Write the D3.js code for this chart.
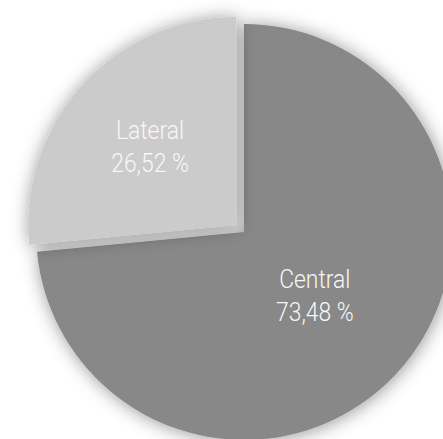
<!DOCTYPE html>
<html>
<head>
<meta charset="utf-8">
<script src="https://cdn.jsdelivr.net/npm/d3@7"></script>
<style>
  html, body { margin: 0; padding: 0; background: #ffffff; overflow: hidden; }
  svg { display: block; }
</style>
</head>
<body>
<svg id="chart" width="443" height="439"></svg>
<script>
// ---- data ----
const categories = ["Central", "Lateral"];
const values = [73.48, 26.52];
const valueLabels = ["73,48 %", "26,52 %"];
const colors = ["#888888", "#cbcbcb"];

// ---- layout ----
const width = 443, height = 439;
const cx = 244, cy = 232, radius = 208;
const explodeBy = { "Lateral": 10.5 };
const labelDist = { "Central": 0.46, "Lateral": 0.56 };

const svg = d3.select("#chart");
const defs = svg.append("defs");
const f = defs.append("filter").attr("id", "shadow")
  .attr("x", "-30%").attr("y", "-30%").attr("width", "160%").attr("height", "160%");
f.append("feDropShadow").attr("dx", 1).attr("dy", 1)
  .attr("stdDeviation", 9).attr("flood-color", "#000").attr("flood-opacity", 0.42);

const pie = d3.pie().sort(null).value(d => d.value);
const data = pie(categories.map((c, i) => ({ cat: c, value: values[i], label: valueLabels[i], color: colors[i] })));

const arc = d3.arc().innerRadius(0).outerRadius(radius);

const g = svg.append("g").attr("transform", `translate(${cx},${cy})`);

function offset(d) {
  const e = explodeBy[d.data.cat] || 0;
  const a = (d.startAngle + d.endAngle) / 2;
  return [Math.sin(a) * e, -Math.cos(a) * e];
}

const slices = g.selectAll("g.slice").data(data).join("g")
  .attr("class", "slice")
  .attr("transform", d => { const o = offset(d); return `translate(${o[0]},${o[1]})`; });

slices.append("path")
  .attr("d", arc)
  .attr("fill", d => d.data.color)
  .attr("filter", "url(#shadow)");

slices.each(function(d) {
  const a = (d.startAngle + d.endAngle) / 2;
  const r = radius * labelDist[d.data.cat];
  const x = Math.sin(a) * r, y = -Math.cos(a) * r;
  const t = d3.select(this).append("text")
    .attr("transform", `translate(${x},${y}) scale(0.88,1)`)
    .attr("text-anchor", "middle")
    .attr("fill", "#f7f7f7")
    .style("font-family", "Roboto, 'Open Sans', sans-serif")
    .style("font-weight", 300)
    .style("font-size", "26px");
  t.append("tspan").attr("x", 0).attr("y", -8).text(d.data.cat);
  t.append("tspan").attr("x", 0).attr("y", 25).text(d.data.label);
});
</script>
</body>
</html>
